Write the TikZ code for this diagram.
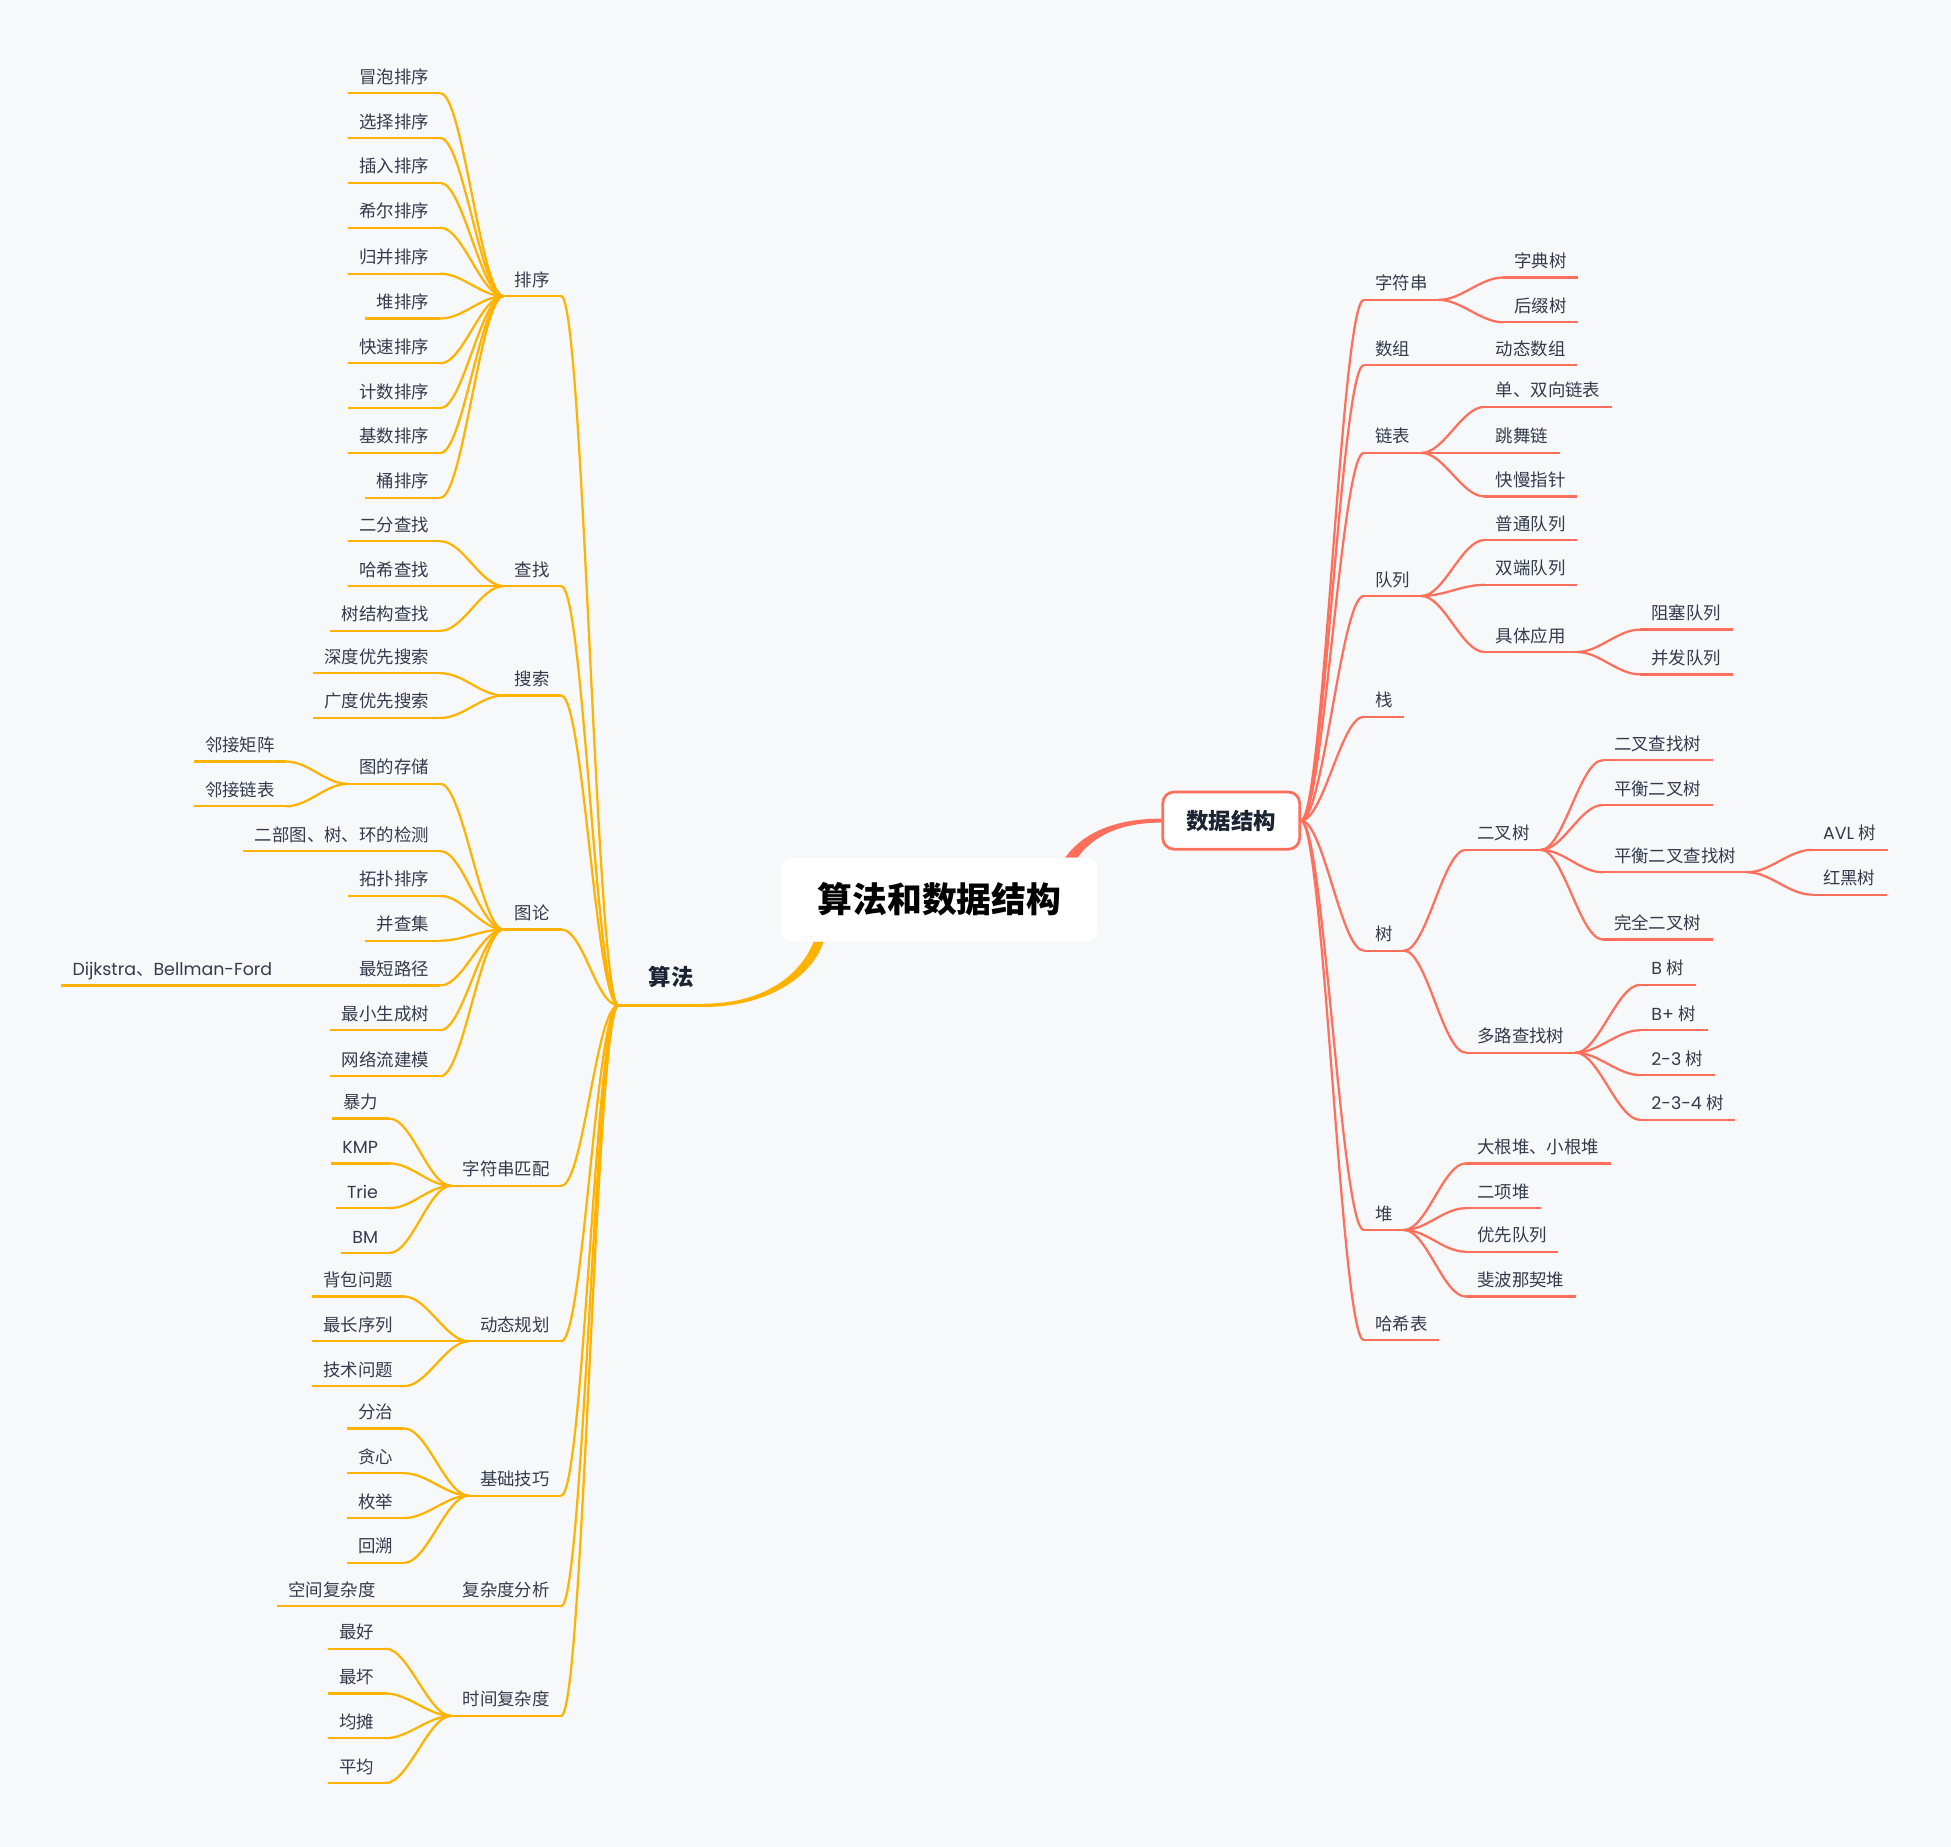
\documentclass[tikz,border=0pt]{standalone}
\usepackage{fontspec}
\setmainfont{Noto Sans CJK SC}
\newfontfamily\lat{Poppins}
\usetikzlibrary{calc}
\definecolor{bg}{HTML}{F7F8FA}
\definecolor{org}{HTML}{FFB300}
\definecolor{cor}{HTML}{FF6F5B}
\definecolor{txt}{HTML}{333B4D}
\definecolor{ink}{HTML}{1C2433}
\pgfdeclarelayer{back}
\pgfdeclarelayer{lines}
\pgfsetlayers{back,lines,main}
\begin{document}
\begin{tikzpicture}[x=1pt,y=-1pt,
 lbl/.style={font=\fontsize{14}{16}\selectfont, text=txt, inner xsep=9pt, inner ysep=4.8pt, text height=11pt, text depth=3pt},
 ln/.style={lbl, anchor=south east},
 rn/.style={lbl, anchor=south west},
 oul/.style={draw=org, line width=1.8pt},
 cul/.style={draw=cor, line width=1.8pt},
 ocv/.style={draw=org, line width=1.8pt, line cap=round},
 ccv/.style={draw=cor, line width=1.8pt, line cap=round},
 cv/.style={to path={.. controls ($(\tikztostart)+(#1,0)$) and ($(\tikztotarget)+(-#1,0)$) .. (\tikztotarget)}},
 cv/.default=18]
\begin{pgfonlayer}{back}
\fill[bg] (0,0) rectangle (1568,1484);
\end{pgfonlayer}
\useasboundingbox (0,0) rectangle (1568,1484);

% root and main topics
\node[fill=white, rounded corners=8pt, minimum width=254pt, minimum height=67pt, inner sep=0pt,
      font=\fontsize{28}{30}\selectfont\bfseries, text=black] (root) at (755,723) {算法和数据结构};
\node[draw=cor, line width=2.2pt, fill=white, rounded corners=9pt, minimum width=110pt, minimum height=46pt,
      inner sep=0pt, font=\fontsize{18}{20}\selectfont\bfseries, text=ink] (ds) at (989.5,659.5) {数据结构};
\node[font=\fontsize{18}{20}\selectfont\bfseries, text=ink, inner sep=0pt] (suanfa) at (539.5,785) {算法};
\coordinate (sfj) at (497,808);
\coordinate (sfe) at (565,808);

% ---------- left side ----------
\node[ln] (paixu) at (451,238) {排序};
\node[ln] (chazhao) at (451,471) {查找};
\node[ln] (sousuo) at (451,559) {搜索};
\node[ln] (tulun) at (451,747) {图论};
\node[ln] (zfcpp) at (451,953) {字符串匹配};
\node[ln] (dtgh) at (451,1078) {动态规划};
\node[ln] (jcjq) at (451,1202) {基础技巧};
\node[ln] (fzdfx) at (451,1291) {复杂度分析};
\node[ln] (sjfzd) at (451,1379) {时间复杂度};

\node[ln] (maopao) at (354,75) {冒泡排序};
\node[ln] (xuanze) at (354,111) {选择排序};
\node[ln] (charu) at (354,147) {插入排序};
\node[ln] (xier) at (354,183) {希尔排序};
\node[ln] (guibing) at (354,220) {归并排序};
\node[ln] (duipx) at (354,256) {堆排序};
\node[ln] (kuaisu) at (354,292) {快速排序};
\node[ln] (jishu) at (354,328) {计数排序};
\node[ln] (jishub) at (354,364) {基数排序};
\node[ln] (tongpx) at (354,400) {桶排序};

\node[ln] (erfen) at (354,435) {二分查找};
\node[ln] (haxi) at (354,471) {哈希查找};
\node[ln] (shujg) at (354,507) {树结构查找};
\node[ln] (shendu) at (354,541) {深度优先搜索};
\node[ln] (guangdu) at (354,577) {广度优先搜索};

\node[ln] (tucc) at (354,630) {图的存储};
\node[ln] (erbu) at (354,684) {二部图、树、环的检测};
\node[ln] (tuopu) at (354,720) {拓扑排序};
\node[ln] (bcj) at (354,756) {并查集};
\node[ln] (zdlj) at (354,792) {最短路径};
\node[ln] (zxscs) at (354,828) {最小生成树};
\node[ln] (wll) at (354,865) {网络流建模};
\node[ln] (ljjz) at (230,612) {邻接矩阵};
\node[ln] (ljlb) at (230,648) {邻接链表};
\node[ln] (dij) at (228,792) {{\lat Dijkstra}、{\lat Bellman-Ford}};

\node[ln] (baoli) at (313,899) {暴力};
\node[ln] (kmp) at (313,935) {\lat KMP};
\node[ln] (trie) at (313,971) {\lat Trie};
\node[ln] (bm) at (313,1007) {\lat BM};

\node[ln] (beibao) at (325,1042) {背包问题};
\node[ln] (zcxl) at (325,1078) {最长序列};
\node[ln] (jswt) at (325,1114) {技术问题};
\node[ln] (fenzhi) at (325,1148) {分治};
\node[ln] (tanxin) at (325,1184) {贪心};
\node[ln] (meiju) at (325,1220) {枚举};
\node[ln] (huisu) at (325,1256) {回溯};
\node[ln] (kjfzd) at (311,1291) {空间复杂度};
\node[ln] (zuihao) at (310,1325) {最好};
\node[ln] (zuihuai) at (310,1361) {最坏};
\node[ln] (juntan) at (310,1397) {均摊};
\node[ln] (pingjun) at (310,1433) {平均};

% ---------- right side ----------
\node[rn] (zfc) at (1096,241) {字符串};
\node[rn] (shuzu) at (1096,293.5) {数组};
\node[rn] (lianbiao) at (1096,364) {链表};
\node[rn] (duilie) at (1096,479) {队列};
\node[rn] (zhan) at (1096,576) {栈};
\node[rn] (shu) at (1096,764) {树};
\node[rn] (duir) at (1096,988.5) {堆};
\node[rn] (hxb) at (1096,1077) {哈希表};

\node[rn] (zidian) at (1208,223) {字典树};
\node[rn] (houzhui) at (1208,259) {后缀树};
\node[rn] (dtsz) at (1193,293.5) {动态数组};
\node[rn] (dsx) at (1193,327) {单、双向链表};
\node[rn] (tiaowu) at (1193,364) {跳舞链};
\node[rn] (kmzz) at (1193,399) {快慢指针};
\node[rn] (ptdl) at (1193,434) {普通队列};
\node[rn] (sddl) at (1193,470) {双端队列};
\node[rn] (jtyy) at (1193,524) {具体应用};
\node[rn] (zsdl) at (1318,506) {阻塞队列};
\node[rn] (bfdl) at (1318,542) {并发队列};

\node[rn] (ecs) at (1178,683) {二叉树};
\node[rn] (dlczs) at (1178,846) {多路查找树};
\node[rn] (ecczs) at (1288,611) {二叉查找树};
\node[rn] (phecs) at (1288,647) {平衡二叉树};
\node[rn] (phecczs) at (1288,701) {平衡二叉查找树};
\node[rn] (wqecs) at (1288,755) {完全二叉树};
\node[rn] (avl) at (1456,683) {{\lat AVL }树};
\node[rn] (hhs) at (1456,719) {红黑树};
\node[rn] (bt) at (1318,791.5) {{\lat B }树};
\node[rn] (bpt) at (1318,828) {{\lat B+ }树};
\node[rn] (tt) at (1318,864) {{\lat 2-3 }树};
\node[rn] (ttf) at (1318,900) {{\lat 2-3-4 }树};

\node[rn] (dgd) at (1178,935) {大根堆、小根堆};
\node[rn] (exd) at (1178,971) {二项堆};
\node[rn] (yxdl) at (1178,1006) {优先队列};
\node[rn] (fbnq) at (1178,1042) {斐波那契堆};

\coordinate (rA) at ([xshift=101pt]root.north);
\coordinate (rB) at ([xshift=111pt]root.north);
\coordinate (sA) at ([xshift=-101pt]root.south);
\coordinate (sB) at ([xshift=-93pt]root.south);

\begin{pgfonlayer}{lines}
% thick main connectors
\fill[cor] (rA) .. controls +(12,-17) and +(-42,0) .. ([yshift=1.6pt]ds.west)
  -- ([yshift=-1.6pt]ds.west) .. controls +(-38,0) and +(10,-14) .. (rB) -- cycle;
\fill[org] (sA) .. controls +(-12,30) and +(45,0) .. ([yshift=1.3pt]sfe)
  -- ([yshift=-1.3pt]sfe) .. controls +(50,0) and +(-10,30) .. (sB) -- cycle;
\draw[org, line width=2.6pt] (sfj) -- (sfe);

% left connectors
\foreach \c in {paixu,chazhao,sousuo,tulun,zfcpp,dtgh,jcjq,fzdfx,sjfzd}
  \draw[ocv] (\c.south east) to[cv] (sfj);
\foreach \c in {maopao,xuanze,charu,xier,guibing,duipx,kuaisu,jishu,jishub,tongpx}
  \draw[ocv] (\c.south east) to[cv] (paixu.south west);
\foreach \c in {erfen,haxi,shujg}
  \draw[ocv] (\c.south east) to[cv] (chazhao.south west);
\foreach \c in {shendu,guangdu}
  \draw[ocv] (\c.south east) to[cv] (sousuo.south west);
\foreach \c in {tucc,erbu,tuopu,bcj,zdlj,zxscs,wll}
  \draw[ocv] (\c.south east) to[cv] (tulun.south west);
\foreach \c in {ljjz,ljlb}
  \draw[ocv] (\c.south east) to[cv] (tucc.south west);
\draw[ocv] (dij.south east) to[cv] (zdlj.south west);
\foreach \c in {baoli,kmp,trie,bm}
  \draw[ocv] (\c.south east) to[cv] (zfcpp.south west);
\foreach \c in {beibao,zcxl,jswt}
  \draw[ocv] (\c.south east) to[cv] (dtgh.south west);
\foreach \c in {fenzhi,tanxin,meiju,huisu}
  \draw[ocv] (\c.south east) to[cv] (jcjq.south west);
\draw[ocv] (kjfzd.south east) to[cv] (fzdfx.south west);
\foreach \c in {zuihao,zuihuai,juntan,pingjun}
  \draw[ocv] (\c.south east) to[cv] (sjfzd.south west);

\foreach \n in {paixu,chazhao,sousuo,tulun,zfcpp,dtgh,jcjq,fzdfx,sjfzd,
  maopao,xuanze,charu,xier,guibing,duipx,kuaisu,jishu,jishub,tongpx,
  erfen,haxi,shujg,shendu,guangdu,tucc,erbu,tuopu,bcj,zdlj,zxscs,wll,ljjz,ljlb,dij,
  baoli,kmp,trie,bm,beibao,zcxl,jswt,fenzhi,tanxin,meiju,huisu,kjfzd,
  zuihao,zuihuai,juntan,pingjun}
  \draw[oul] (\n.south west) -- (\n.south east);

% right connectors
\foreach \c in {zfc,shuzu,lianbiao,duilie,zhan,shu,duir,hxb}
  \draw[ccv] (ds.east) to[cv] (\c.south west);
\foreach \c in {zidian,houzhui}
  \draw[ccv] (zfc.south east) to[cv] (\c.south west);
\draw[ccv] (shuzu.south east) to[cv] (dtsz.south west);
\foreach \c in {dsx,tiaowu,kmzz}
  \draw[ccv] (lianbiao.south east) to[cv] (\c.south west);
\foreach \c in {ptdl,sddl,jtyy}
  \draw[ccv] (duilie.south east) to[cv] (\c.south west);
\foreach \c in {zsdl,bfdl}
  \draw[ccv] (jtyy.south east) to[cv] (\c.south west);
\foreach \c in {ecs,dlczs}
  \draw[ccv] (shu.south east) to[cv] (\c.south west);
\foreach \c in {ecczs,phecs,phecczs,wqecs}
  \draw[ccv] (ecs.south east) to[cv] (\c.south west);
\foreach \c in {avl,hhs}
  \draw[ccv] (phecczs.south east) to[cv] (\c.south west);
\foreach \c in {bt,bpt,tt,ttf}
  \draw[ccv] (dlczs.south east) to[cv] (\c.south west);
\foreach \c in {dgd,exd,yxdl,fbnq}
  \draw[ccv] (duir.south east) to[cv] (\c.south west);

\foreach \n in {zfc,shuzu,lianbiao,duilie,zhan,shu,duir,hxb,
  zidian,houzhui,dtsz,dsx,tiaowu,kmzz,ptdl,sddl,jtyy,zsdl,bfdl,
  ecs,dlczs,ecczs,phecs,phecczs,wqecs,avl,hhs,bt,bpt,tt,ttf,
  dgd,exd,yxdl,fbnq}
  \draw[cul] (\n.south west) -- (\n.south east);
\end{pgfonlayer}
\end{tikzpicture}
\end{document}
